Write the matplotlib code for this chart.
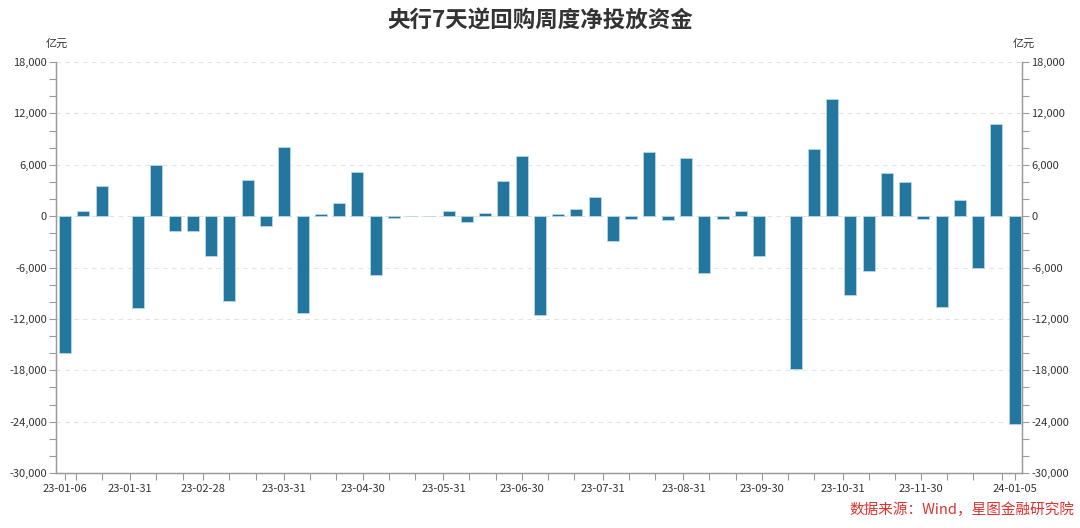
import numpy as np
import pandas as pd
import matplotlib
matplotlib.use('Agg')
import matplotlib.pyplot as plt
import matplotlib.dates as mdates
from matplotlib.ticker import MultipleLocator, FuncFormatter

plt.rcParams['font.family'] = ['Noto Sans CJK SC', 'DejaVu Sans']

# weekly net injection via 7-day reverse repo (100 million yuan)
weeks = pd.date_range('2023-01-06', periods=53, freq='7D')
net = [-16000, 620, 3560, 0, -10700, 6000, -1780, -1700, -4700, -9860,
       4250, -1120, 8050, -11340, 230, 1550, 5150, -6880, -250, -30,
       60, 640, -700, 420, 4060, 7050, -11550, 190, 775, 2280,
       -2865, -350, 7510, -465, 6800, -6620, -390, 620, -4606, 0,
       -17840, 7860, 13630, -9270, -6450, 5070, 4030, -310, -10600, 1940,
       -6020, 10720, -24270]

label_dates = ['2023-01-06', '2023-01-31', '2023-02-28', '2023-03-31', '2023-04-30',
               '2023-05-31', '2023-06-30', '2023-07-31', '2023-08-31', '2023-09-30',
               '2023-10-31', '2023-11-30', '2024-01-05']
label_text = ['23-01-06', '23-01-31', '23-02-28', '23-03-31', '23-04-30', '23-05-31',
              '23-06-30', '23-07-31', '23-08-31', '23-09-30', '23-10-31', '23-11-30',
              '24-01-05']

# unlabeled ticks: 10th, 20th of each month and 12-31
minor_dates = []
for m in range(1, 13):
    minor_dates.append(pd.Timestamp(2023, m, 10))
    minor_dates.append(pd.Timestamp(2023, m, 20))
minor_dates.append(pd.Timestamp('2023-12-31'))

bar_color = '#23779f'
axis_color = '#9a9a9a'
text_color = '#333333'

fig = plt.figure(figsize=(10.8, 5.28), dpi=100)
ax = fig.add_axes([56/1080, 55/528, 966/1080, 411/528])

edges = ['#b9d6e6' if v != 0 else 'none' for v in net]
ax.bar(weeks, net, width=4.6, color=bar_color, edgecolor=edges, linewidth=0.6, zorder=3)

xn = mdates.date2num(weeks)
ax.set_xlim(xn[0] - 3.5, xn[-1] + 2.8)
ax.set_ylim(-30000, 18000)

fmt = FuncFormatter(lambda v, p: f'{int(v):,}')
ax.yaxis.set_major_locator(MultipleLocator(6000))
ax.yaxis.set_minor_locator(MultipleLocator(2000))
ax.yaxis.set_major_formatter(fmt)
ax.grid(axis='y', which='major', ls=(0, (4, 4)), color='#e3e3e3', lw=0.8, zorder=0)

ax.set_xticks(mdates.date2num(pd.to_datetime(label_dates)))
ax.set_xticklabels(label_text)
ax.set_xticks(mdates.date2num(pd.to_datetime(minor_dates)), minor=True)

ax2 = ax.twinx()
ax2.set_ylim(-30000, 18000)
ax2.yaxis.set_major_locator(MultipleLocator(6000))
ax2.yaxis.set_minor_locator(MultipleLocator(2000))
ax2.yaxis.set_major_formatter(fmt)

for a in (ax, ax2):
    a.spines['top'].set_visible(False)
    for s in ('left', 'right', 'bottom'):
        a.spines[s].set_color(axis_color)
        a.spines[s].set_linewidth(0.9)
    a.tick_params(which='both', length=5, width=0.8, color=axis_color,
                  labelcolor=text_color, labelsize=8, pad=1.5)
ax.tick_params(axis='x', which='both', length=5, pad=3)

fig.text(0.5, 1 - 21/528, '央行7天逆回购周度净投放资金', ha='center', va='center',
         fontsize=16.2, fontweight='bold', color=text_color)
fig.text(57/1080, 1 - 44/528, '亿元', ha='center', va='center', fontsize=8, color=text_color)
fig.text(1024/1080, 1 - 44/528, '亿元', ha='center', va='center', fontsize=8, color=text_color)
fig.text(1074/1080, 1 - 510/528, '数据来源：Wind，星图金融研究院', ha='right', va='center',
         fontsize=10.5, style='italic', color='#e0312d')

fig.savefig('out.png', dpi=100)
